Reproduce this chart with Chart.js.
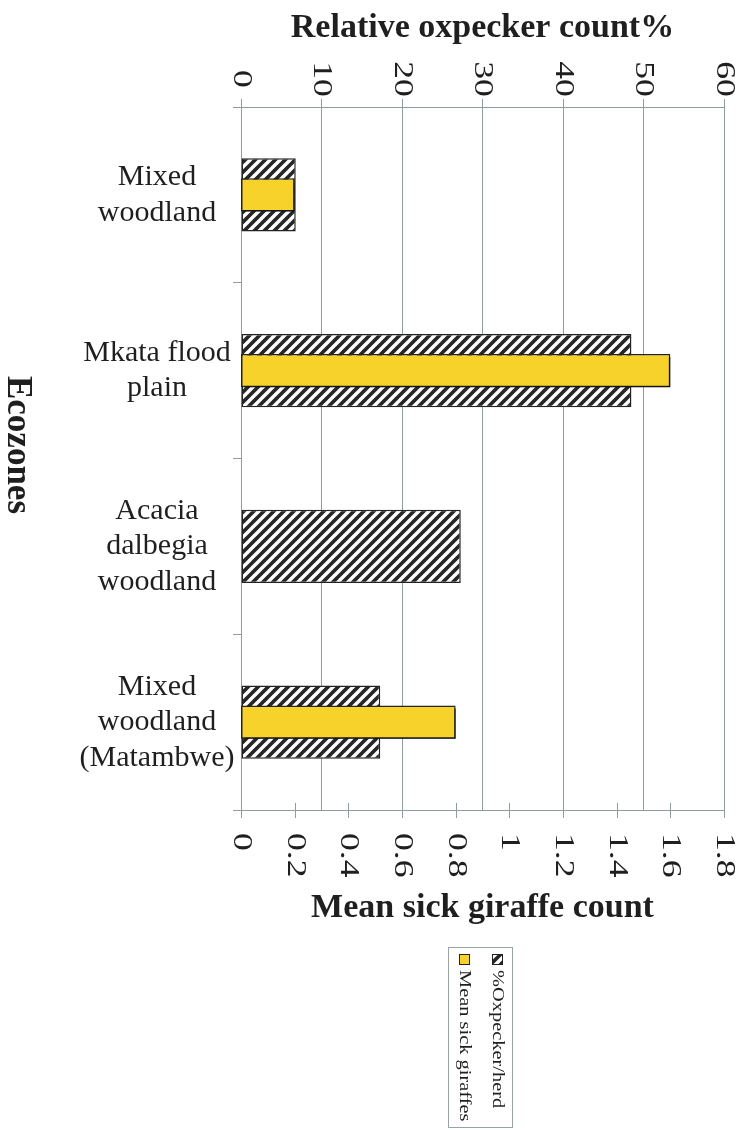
<!DOCTYPE html>
<html>
<head>
<meta charset="utf-8">
<title>Ecozones: oxpeckers and sick giraffes</title>
<script src="https://cdn.jsdelivr.net/npm/chart.js@4/dist/chart.umd.min.js"></script>
<style>
  html, body { margin: 0; padding: 0; background: #ffffff; }
  canvas { display: block; }
</style>
</head>
<body>
<canvas id="chart" width="745" height="1130"></canvas>
<script>
// Ecozone categories (multi-line labels)
const categories = [
  ['Mixed', 'woodland'],
  ['Mkata flood', 'plain'],
  ['Acacia', 'dalbegia', 'woodland'],
  ['Mixed', 'woodland', '(Matambwe)']
];
// Relative oxpecker count per herd (%), top axis
const oxpeckerPct = [6.8, 48.5, 27.3, 17.3];
// Mean sick giraffe count, bottom axis
const sickGiraffes = [0.2, 1.6, 0, 0.8];
// Axis tick values
const oxpeckerTicks = [0, 10, 20, 30, 40, 50, 60];
const giraffeTicks = [0, 0.2, 0.4, 0.6, 0.8, 1, 1.2, 1.4, 1.6, 1.8];
// Series names
const seriesNames = ['%Oxpecker/herd', 'Mean sick giraffes'];

const SERIF = '"Liberation Serif", "Times New Roman", serif';
const TEXT = '#1f1f1f';
const AXIS = '#8e9c9b';
const YELLOW = '#f6d22a';

// Diagonal hatch fill: white "/" stripes on a dark ground
function makeHatch() {
  const s = 10;
  const c = document.createElement('canvas');
  c.width = s; c.height = s;
  const g = c.getContext('2d');
  g.fillStyle = '#262626';
  g.fillRect(0, 0, s, s);
  g.strokeStyle = '#ffffff';
  g.lineWidth = 3.6;
  g.beginPath();
  g.moveTo(-s, s); g.lineTo(s, -s);
  g.moveTo(0, 2 * s); g.lineTo(2 * s, 0);
  g.moveTo(-s / 2, s * 1.5); g.lineTo(s * 1.5, -s / 2);
  g.stroke();
  // keep only one stripe per tile period
  return c;
}
function makeHatchTile() {
  const s = 10;
  const c = document.createElement('canvas');
  c.width = s; c.height = s;
  const g = c.getContext('2d');
  g.fillStyle = '#262626';
  g.fillRect(0, 0, s, s);
  g.strokeStyle = '#ffffff';
  g.lineWidth = 3.4;
  g.beginPath();
  g.moveTo(0, s); g.lineTo(s, 0);
  g.moveTo(-s, s); g.lineTo(s, -s);
  g.moveTo(0, 2 * s); g.lineTo(2 * s, 0);
  g.stroke();
  return c;
}
const hatchCanvas = makeHatchTile();
const hatch = document.getElementById('chart').getContext('2d').createPattern(hatchCanvas, 'repeat');

// Text along a vertical line, reading top to bottom, stretched along its baseline
function drawDown(ctx, text, x, y, font, align, stretch) {
  ctx.save();
  ctx.translate(x, y);
  ctx.rotate(Math.PI / 2);
  ctx.scale(stretch, 1);
  ctx.font = font;
  ctx.fillStyle = TEXT;
  ctx.textAlign = align;
  ctx.textBaseline = 'middle';
  ctx.fillText(text, 0, 0);
  ctx.restore();
}

// Drop shadow under the yellow bars
const barShadow = {
  id: 'barShadow',
  beforeDatasetDraw(chart, args) {
    if (args.index !== 1) return;
    const ctx = chart.ctx;
    ctx.save();
    ctx.shadowColor = 'rgba(20,20,20,0.9)';
    ctx.shadowOffsetX = 2;
    ctx.shadowOffsetY = 3;
    ctx.shadowBlur = 0;
  },
  afterDatasetDraw(chart, args) {
    if (args.index !== 1) return;
    chart.ctx.restore();
  }
};

// Tick labels, titles, category names and the legend
const decorations = {
  id: 'decorations',
  afterDraw(chart) {
    const ctx = chart.ctx;
    const area = chart.chartArea;
    const top = chart.scales.x2;
    const bottom = chart.scales.x;
    const cat = chart.scales.y;

    // crossing tick marks on the bottom axis
    ctx.save();
    ctx.strokeStyle = AXIS;
    ctx.lineWidth = 1;
    giraffeTicks.forEach(v => {
      const px = Math.round(bottom.getPixelForValue(v)) + 0.5;
      ctx.beginPath();
      ctx.moveTo(px, area.bottom - 7);
      ctx.lineTo(px, area.bottom + 8);
      ctx.stroke();
    });
    ctx.restore();

    // top tick labels
    oxpeckerTicks.forEach(v => {
      drawDown(ctx, String(v), top.getPixelForValue(v), 79, '27px ' + SERIF, 'center', 1.32);
    });
    // bottom tick labels
    giraffeTicks.forEach(v => {
      drawDown(ctx, String(v), bottom.getPixelForValue(v), 833, '27px ' + SERIF, 'left', 1.32);
    });

    // category names
    ctx.save();
    ctx.fillStyle = TEXT;
    ctx.font = '30px ' + SERIF;
    ctx.textAlign = 'center';
    ctx.textBaseline = 'middle';
    categories.forEach((lines, i) => {
      const cy = cat.getPixelForValue(i);
      lines.forEach((t, j) => {
        ctx.fillText(t, 157, cy + (j - (lines.length - 1) / 2) * 35.5);
      });
    });

    // axis titles
    ctx.font = 'bold 34px ' + SERIF;
    ctx.textBaseline = 'alphabetic';
    const midX = (area.left + area.right) / 2;
    ctx.fillText('Relative oxpecker count%', midX, 37);
    ctx.fillText('Mean sick giraffe count', midX, 917);
    ctx.restore();
    drawDown(ctx, 'Ecozones', 17, 445, 'bold 35px ' + SERIF, 'center', 1);

    // legend box
    ctx.save();
    ctx.strokeStyle = '#9aa3a3';
    ctx.lineWidth = 1;
    ctx.strokeRect(448.5, 947.5, 64, 180);
    const entries = [
      { x: 497, fill: hatch, label: chart.data.datasets[0].label },
      { x: 464, fill: YELLOW, label: chart.data.datasets[1].label }
    ];
    entries.forEach(e => {
      ctx.fillStyle = e.fill;
      ctx.fillRect(e.x - 5, 954, 10, 10);
      ctx.strokeStyle = '#222';
      ctx.lineWidth = 1;
      ctx.strokeRect(e.x - 5 + 0.5, 954.5, 10, 10);
      drawDown(ctx, e.label, e.x, 970, '17px ' + SERIF, 'left', 1.2);
    });
    ctx.restore();
  }
};

new Chart(document.getElementById('chart'), {
  type: 'bar',
  data: {
    labels: categories,
    datasets: [
      {
        label: seriesNames[0],
        data: oxpeckerPct,
        xAxisID: 'x2',
        backgroundColor: hatch,
        borderColor: '#222222',
        borderWidth: 1.5,
        borderSkipped: false,
        grouped: false,
        categoryPercentage: 1,
        barPercentage: 0.416,
        order: 2
      },
      {
        label: seriesNames[1],
        data: sickGiraffes,
        xAxisID: 'x',
        backgroundColor: YELLOW,
        borderColor: '#222222',
        borderWidth: 1.5,
        borderSkipped: false,
        grouped: false,
        categoryPercentage: 1,
        barPercentage: 0.19,
        order: 1
      }
    ]
  },
  options: {
    indexAxis: 'y',
    responsive: false,
    devicePixelRatio: 1,
    animation: false,
    layout: { padding: { left: 241, right: 21, top: 107, bottom: 320 } },
    plugins: {
      legend: { display: false },
      tooltip: { enabled: false }
    },
    scales: {
      y: {
        type: 'category',
        offset: true,
        ticks: { display: false },
        grid: { drawOnChartArea: false, tickLength: 8, color: AXIS },
        border: { display: true, color: AXIS, width: 1 },
        afterFit(s) { s.width = 0; }
      },
      x2: {
        type: 'linear',
        position: 'top',
        min: 0,
        max: 60,
        afterBuildTicks(s) { s.ticks = oxpeckerTicks.map(v => ({ value: v })); },
        ticks: { display: false },
        grid: { color: AXIS, tickLength: 8, lineWidth: 1 },
        border: { display: true, color: AXIS, width: 1 },
        afterFit(s) { s.height = 0; }
      },
      x: {
        type: 'linear',
        position: 'bottom',
        min: 0,
        max: 1.8,
        afterBuildTicks(s) { s.ticks = giraffeTicks.map(v => ({ value: v })); },
        ticks: { display: false },
        grid: { display: false },
        border: { display: true, color: AXIS, width: 1 },
        afterFit(s) { s.height = 0; }
      }
    }
  },
  plugins: [barShadow, decorations]
});
</script>
</body>
</html>
